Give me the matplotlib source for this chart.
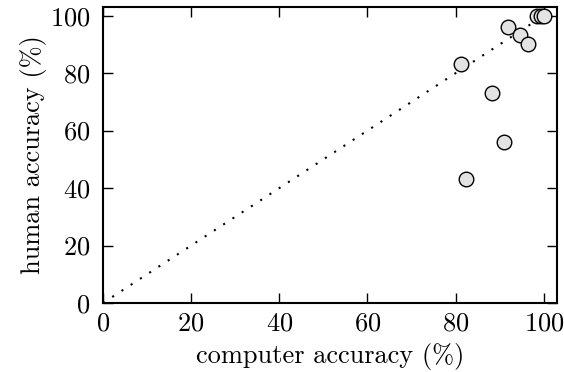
import matplotlib
matplotlib.use("Agg")
from matplotlib import pyplot as plt

plt.rcParams["font.family"] = "serif"
plt.rcParams["font.serif"] = ["cmr10"]
plt.rcParams["mathtext.fontset"] = "cm"
plt.rcParams["axes.formatter.use_mathtext"] = True

computer_acc = [98.5, 99.3, 100.0, 91.8, 94.5, 96.5, 81.3, 88.2, 90.9, 82.4]
human_acc = [100.0, 100.0, 100.0, 96.2, 93.3, 90.3, 83.3, 73.2, 56.1, 43.2]
diag = [0, 100]
ticks = [0, 20, 40, 60, 80, 100]

fig = plt.figure(figsize=(5.64, 3.72), dpi=100)
ax = fig.add_axes([0.1826, 0.1855, 0.805, 0.7955])

ax.plot(diag, diag, color="k", linewidth=1.5, linestyle=(0, (1, 4.3)), zorder=1)
ax.scatter(computer_acc, human_acc, s=110, facecolor="#e3e3e3", edgecolor="k",
           linewidth=1.0, zorder=2)

ax.set_xlim(0, 103)
ax.set_ylim(0, 103)
ax.set_xticks(ticks)
ax.set_yticks(ticks)
ax.tick_params(direction="in", length=7, width=1, labelsize=19, top=True, right=True)
ax.tick_params(axis="x", pad=6)
ax.tick_params(axis="y", pad=9)
for sp in ax.spines.values():
    sp.set_linewidth(1.5)

ax.set_xlabel("computer accuracy (%)", fontsize=19, labelpad=6)
ax.set_ylabel("human accuracy (%)", fontsize=19, labelpad=2)

fig.savefig("out.png", dpi=100)
